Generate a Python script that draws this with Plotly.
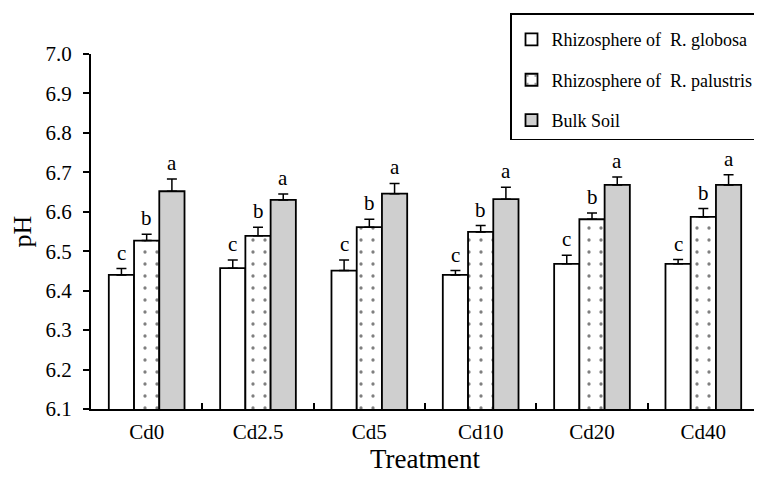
import plotly.graph_objects as go

categories = ["Cd0", "Cd2.5", "Cd5", "Cd10", "Cd20", "Cd40"]
globosa = [6.44, 6.457, 6.451, 6.44, 6.468, 6.468]
globosa_err = [0.016, 0.021, 0.027, 0.011, 0.022, 0.011]
palustris = [6.527, 6.539, 6.561, 6.549, 6.581, 6.587]
palustris_err = [0.016, 0.022, 0.02, 0.016, 0.016, 0.021]
bulk = [6.652, 6.63, 6.646, 6.632, 6.668, 6.668]
bulk_err = [0.031, 0.015, 0.026, 0.03, 0.02, 0.026]
letters_globosa = ["c"] * 6
letters_palustris = ["b"] * 6
letters_bulk = ["a"] * 6
series_names = ["Rhizosphere of  R. globosa", "Rhizosphere of  R. palustris", "Bulk Soil"]
y_ticks = [6.1, 6.2, 6.3, 6.4, 6.5, 6.6, 6.7, 6.8, 6.9, 7.0]

FONT = "Liberation Serif"
BARGAP = 0.32

fig = go.Figure()

def err(arr):
    return dict(type="data", array=arr, arrayminus=[0] * len(arr), symmetric=False,
                color="black", thickness=1.5, width=5)

fig.add_trace(go.Bar(name=series_names[0], x=categories, y=globosa, error_y=err(globosa_err),
                     marker=dict(color="white", line=dict(color="black", width=1.8)),
                     legendgroup="g1"))
fig.add_trace(go.Bar(name=series_names[1], x=categories, y=palustris, error_y=err(palustris_err),
                     marker=dict(color="white", line=dict(color="black", width=1.8),
                                 pattern=dict(shape=".", fgcolor="black", bgcolor="white",
                                              size=12, solidity=0.06, fillmode="overlay")),
                     legendgroup="g2"))
fig.add_trace(go.Bar(name=series_names[2], x=categories, y=bulk, error_y=err(bulk_err),
                     marker=dict(color="#cfcfcf", line=dict(color="black", width=1.8)),
                     legendgroup="g3"))

w = (1 - BARGAP) / 3
annotations = []
for i in range(len(categories)):
    for off, vals, errs, labs in [(-w, globosa, globosa_err, letters_globosa),
                                  (0, palustris, palustris_err, letters_palustris),
                                  (w, bulk, bulk_err, letters_bulk)]:
        annotations.append(dict(x=i + off, y=vals[i] + errs[i], text=labs[i], showarrow=False,
                                xref="x", yref="y", yanchor="bottom", yshift=2,
                                font=dict(family=FONT, size=21, color="black")))

# page body has an 8px margin, so the figure is sized/offset to compensate
fig.update_layout(
    width=754, height=483,
    margin=dict(l=83, r=3, t=46, b=82, autoexpand=False),
    paper_bgcolor="white", plot_bgcolor="white",
    barmode="group", bargap=BARGAP, bargroupgap=0,
    font=dict(family=FONT, size=21, color="black"),
    showlegend=True,
    legend=dict(x=1.0, xanchor="right", y=1.115, yanchor="top",
                bordercolor="black", borderwidth=1.5, bgcolor="white",
                font=dict(family=FONT, size=18, color="black"),
                title=dict(text=" ", font=dict(family=FONT, size=5)),
                traceorder="grouped", tracegroupgap=14, itemwidth=30),
    annotations=annotations,
    xaxis=dict(showline=True, linecolor="black", linewidth=2, ticks="inside", ticklen=6,
               tickwidth=1.5, tickcolor="black", tickson="boundaries", showgrid=False,
               ticklabelstandoff=3,
               title=dict(text="Treatment", font=dict(family=FONT, size=27), standoff=6),
               tickfont=dict(family=FONT, size=21)),
    yaxis=dict(range=[6.1, 7.0], tickvals=y_ticks, ticktext=[f"{v:.1f}" for v in y_ticks],
               showline=True, linecolor="black", linewidth=2, ticks="outside", ticklen=6,
               tickwidth=1.5, tickcolor="black", showgrid=False, zeroline=False,
               ticklabelstandoff=7,
               title=dict(text="pH", font=dict(family=FONT, size=26), standoff=8),
               tickfont=dict(family=FONT, size=21)),
)

fig.write_html("out.html")
